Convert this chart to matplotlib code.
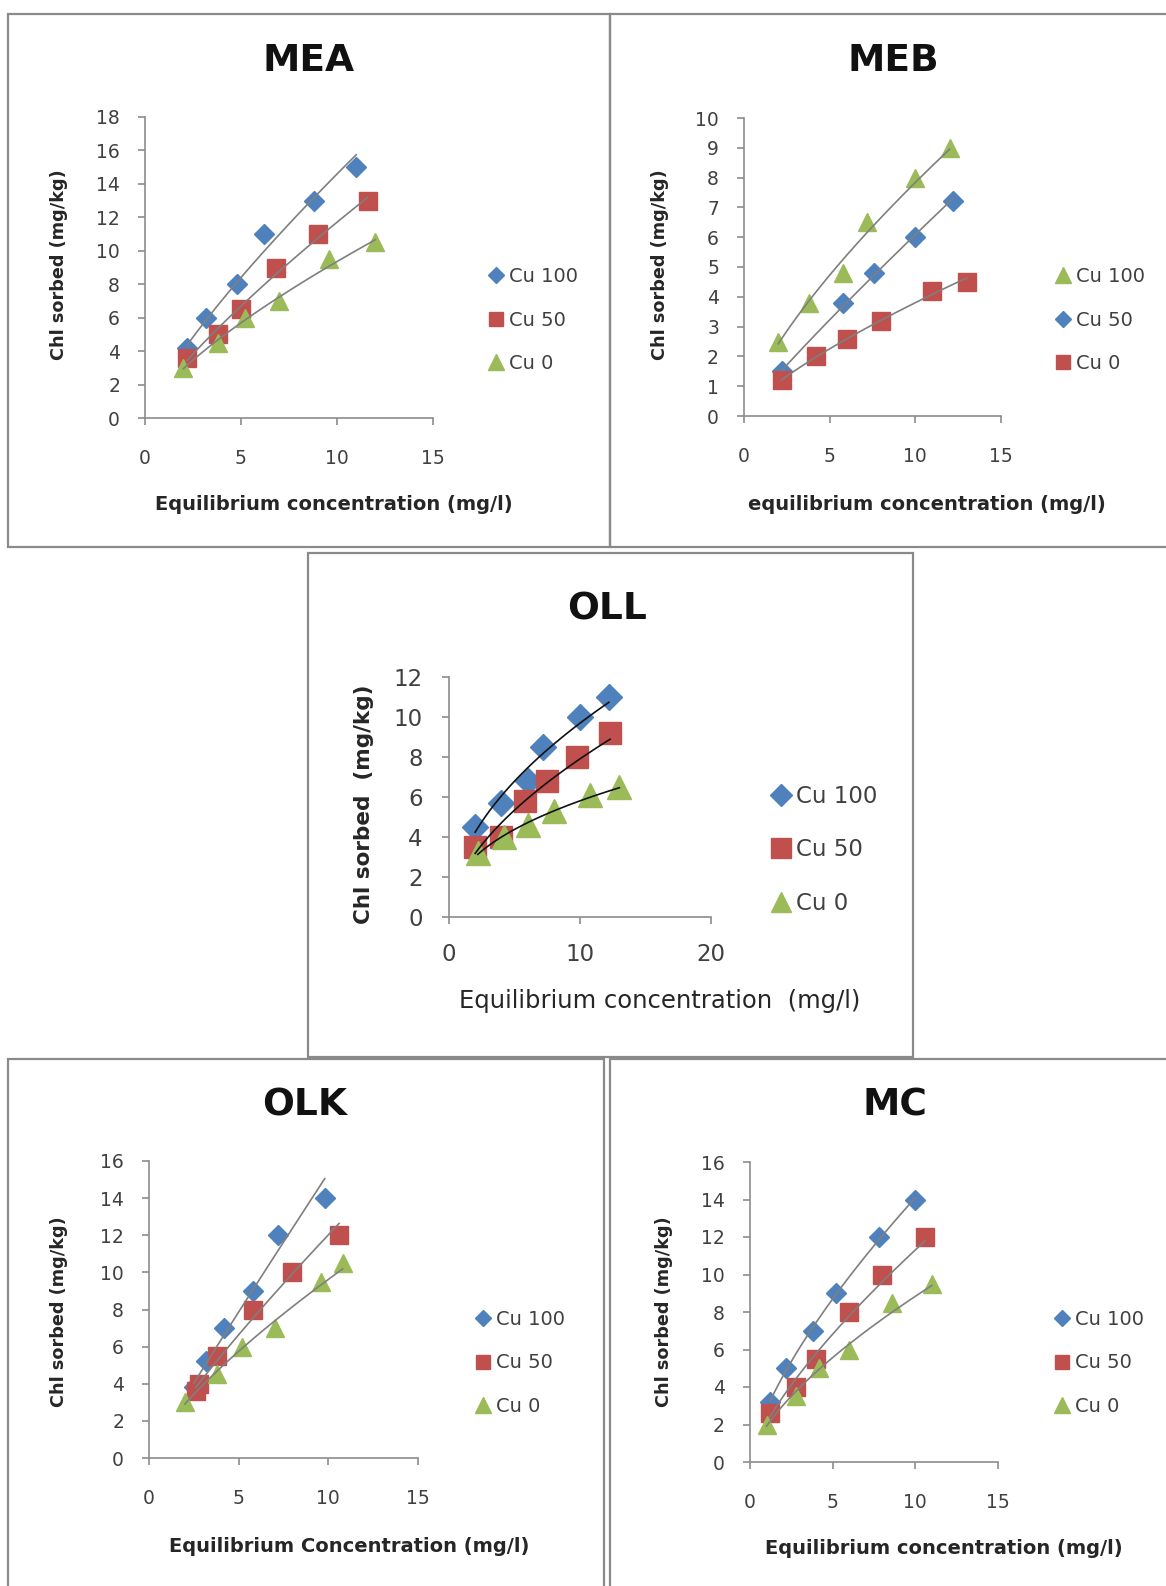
import numpy as np
import matplotlib.pyplot as plt
from matplotlib.patches import Rectangle

plt.rcParams['font.family'] = ['DejaVu Sans']

W, H = 1166, 1586
BLUE = '#4F81BD'
RED = '#C0504D'
GREEN = '#9BBB59'

# MEA
mea_cu100_x = [2.2, 3.2, 4.8, 6.2, 8.8, 11.0]
mea_cu100_y = [4.2, 6.0, 8.0, 11.0, 13.0, 15.0]
mea_cu50_x = [2.2, 3.8, 5.0, 6.8, 9.0, 11.6]
mea_cu50_y = [3.6, 5.0, 6.5, 9.0, 11.0, 13.0]
mea_cu0_x = [2.0, 3.8, 5.2, 7.0, 9.6, 12.0]
mea_cu0_y = [3.0, 4.5, 6.0, 7.0, 9.5, 10.5]

# MEB
meb_cu100_x = [2.0, 3.8, 5.8, 7.2, 10.0, 12.0]
meb_cu100_y = [2.5, 3.8, 4.8, 6.5, 8.0, 9.0]
meb_cu50_x = [2.2, 5.8, 7.6, 10.0, 12.2]
meb_cu50_y = [1.5, 3.8, 4.8, 6.0, 7.2]
meb_cu0_x = [2.2, 4.2, 6.0, 8.0, 11.0, 13.0]
meb_cu0_y = [1.2, 2.0, 2.6, 3.2, 4.2, 4.5]

# OLL
oll_cu100_x = [2.0, 4.0, 6.0, 7.2, 10.0, 12.2]
oll_cu100_y = [4.5, 5.7, 6.8, 8.5, 10.0, 11.0]
oll_cu50_x = [2.0, 4.0, 5.8, 7.5, 9.8, 12.3]
oll_cu50_y = [3.5, 4.0, 5.8, 6.8, 8.0, 9.2]
oll_cu0_x = [2.2, 4.2, 6.0, 8.0, 10.8, 13.0]
oll_cu0_y = [3.2, 4.0, 4.6, 5.3, 6.1, 6.5]

# OLK
olk_cu100_x = [2.5, 3.2, 4.2, 5.8, 7.2, 9.8]
olk_cu100_y = [3.8, 5.2, 7.0, 9.0, 12.0, 14.0]
olk_cu50_x = [2.6, 2.8, 3.8, 5.8, 8.0, 10.6]
olk_cu50_y = [3.6, 4.0, 5.5, 8.0, 10.0, 12.0]
olk_cu0_x = [2.0, 3.8, 5.2, 7.0, 9.6, 10.8]
olk_cu0_y = [3.0, 4.5, 6.0, 7.0, 9.5, 10.5]

# MC
mc_cu100_x = [1.2, 2.2, 3.8, 5.2, 7.8, 10.0]
mc_cu100_y = [3.2, 5.0, 7.0, 9.0, 12.0, 14.0]
mc_cu50_x = [1.2, 2.8, 4.0, 6.0, 8.0, 10.6]
mc_cu50_y = [2.6, 4.0, 5.5, 8.0, 10.0, 12.0]
mc_cu0_x = [1.0, 2.8, 4.2, 6.0, 8.6, 11.0]
mc_cu0_y = [2.0, 3.5, 5.0, 6.0, 8.5, 9.5]

fig = plt.figure(figsize=(W / 100, H / 100), dpi=100)


def fx(px):
    return px / W


def fy(py):
    return 1 - py / H


def frame(x0, y0, x1, y1):
    fig.patches.append(Rectangle((fx(x0), fy(y1)), fx(x1) - fx(x0), fy(y0) - fy(y1),
                                 transform=fig.transFigure, fill=False,
                                 ec='#8a8a8a', lw=1.6))


def panel(box, title, title_xy, xlim, xticks, ylim, yticks, series,
          xlabel, xlabel_xy, ylabel, ylabel_xy, legend_xy, big=False,
          fit_color='#7f7f7f'):
    x0, x1, yt, yb = box
    ax = fig.add_axes([fx(x0), fy(yb), fx(x1) - fx(x0), fy(yt) - fy(yb)])
    tick_fs = 16.5 if big else 13.5
    leg_fs = 16.5 if big else 14
    scale = 1.3 if big else 1.0
    handles = []
    for xs, ys, color, marker, ms, label in series:
        xs = np.array(xs)
        ys = np.array(ys)
        # power trend line (Excel style)
        b, a = np.polyfit(np.log(xs), np.log(ys), 1)
        xx = np.linspace(xs.min(), xs.max(), 100)
        ax.plot(xx, np.exp(a) * xx ** b, color=fit_color, lw=1.2, zorder=3)
        h, = ax.plot(xs, ys, linestyle='none', marker=marker, ms=ms * scale,
                     color=color, mec=color, zorder=2, label=label)
        handles.append(h)
    ax.set_xlim(*xlim)
    ax.set_ylim(*ylim)
    ax.set_xticks(xticks)
    ax.set_yticks(yticks)
    for s in ['top', 'right']:
        ax.spines[s].set_visible(False)
    for s in ['left', 'bottom']:
        ax.spines[s].set_color('#8c8c8c')
        ax.spines[s].set_linewidth(1.2)
    ax.tick_params(axis='both', direction='out', length=5, width=1.2,
                   color='#8c8c8c', labelsize=tick_fs, labelcolor='#404040')
    ax.tick_params(axis='x', pad=17 if not big else 14)
    ax.tick_params(axis='y', pad=13 if not big else 14)
    ax.patch.set_alpha(0)

    ax.set_xlabel(xlabel, fontsize=17.5 if big else 14,
                  fontweight='normal' if big else 'bold', color='#262626')
    ax.xaxis.set_label_coords(fx(xlabel_xy[0]), fy(xlabel_xy[1]), transform=fig.transFigure)
    ax.set_ylabel(ylabel, fontsize=15.5 if big else 12.7, fontweight='bold', color='#262626')
    ax.yaxis.set_label_coords(fx(ylabel_xy[0]), fy(ylabel_xy[1]), transform=fig.transFigure)
    ax.xaxis.label.set_va('center')
    ax.yaxis.label.set_va('center')

    fig.text(fx(title_xy[0]), fy(title_xy[1]), title, fontsize=27, fontweight='bold',
             ha='center', va='center', color='#111111')

    mx, my = legend_xy
    fs_px = leg_fs * 100 / 72
    ax.legend(handles=handles, loc='center left',
              bbox_to_anchor=(fx(mx - 0.5 * fs_px), fy(my)),
              bbox_transform=fig.transFigure, frameon=False, fontsize=leg_fs,
              handlelength=1.0, handletextpad=0.15, borderpad=0, borderaxespad=0,
              labelspacing=1.35 if big else 1.25, markerscale=0.85,
              labelcolor='#404040')
    return ax


# panel frames
frame(8, 14, 610, 547)
frame(610, 14, 1175, 547)
frame(308, 553, 913, 1057)
frame(8, 1059, 604, 1595)
frame(610, 1059, 1175, 1595)

panel((145, 433, 117, 418), 'MEA', (309, 61), (0, 15), [0, 5, 10, 15],
      (0, 18), range(0, 19, 2),
      [(mea_cu100_x, mea_cu100_y, BLUE, 'D', 10, 'Cu 100'),
       (mea_cu50_x, mea_cu50_y, RED, 's', 12.5, 'Cu 50'),
       (mea_cu0_x, mea_cu0_y, GREEN, '^', 13, 'Cu 0')],
      'Equilibrium concentration (mg/l)', (334, 504),
      'Chl sorbed (mg/kg)', (59, 265), (496, 320))

panel((744, 1001, 118, 416), 'MEB', (893, 61), (0, 15), [0, 5, 10, 15],
      (0, 10), range(0, 11, 1),
      [(meb_cu100_x, meb_cu100_y, GREEN, '^', 13, 'Cu 100'),
       (meb_cu50_x, meb_cu50_y, BLUE, 'D', 10, 'Cu 50'),
       (meb_cu0_x, meb_cu0_y, RED, 's', 12.5, 'Cu 0')],
      'equilibrium concentration (mg/l)', (927, 504),
      'Chl sorbed (mg/kg)', (660, 265), (1063, 320))

panel((449, 711, 677, 917), 'OLL', (607, 610), (0, 20), [0, 10, 20],
      (0, 12), range(0, 13, 2),
      [(oll_cu100_x, oll_cu100_y, BLUE, 'D', 10, 'Cu 100'),
       (oll_cu50_x, oll_cu50_y, RED, 's', 12.5, 'Cu 50'),
       (oll_cu0_x, oll_cu0_y, GREEN, '^', 13, 'Cu 0')],
      'Equilibrium concentration  (mg/l)', (660, 1001),
      'Chl sorbed  (mg/kg)', (364, 804), (781, 850), big=True, fit_color='#111111')

panel((149, 418, 1161, 1458), 'OLK', (305, 1105), (0, 15), [0, 5, 10, 15],
      (0, 16), range(0, 17, 2),
      [(olk_cu100_x, olk_cu100_y, BLUE, 'D', 10, 'Cu 100'),
       (olk_cu50_x, olk_cu50_y, RED, 's', 12.5, 'Cu 50'),
       (olk_cu0_x, olk_cu0_y, GREEN, '^', 13, 'Cu 0')],
      'Equilibrium Concentration (mg/l)', (349, 1547),
      'Chl sorbed (mg/kg)', (59, 1312), (483, 1363))

panel((750, 998, 1162, 1462), 'MC', (895, 1105), (0, 15), [0, 5, 10, 15],
      (0, 16), range(0, 17, 2),
      [(mc_cu100_x, mc_cu100_y, BLUE, 'D', 10, 'Cu 100'),
       (mc_cu50_x, mc_cu50_y, RED, 's', 12.5, 'Cu 50'),
       (mc_cu0_x, mc_cu0_y, GREEN, '^', 13, 'Cu 0')],
      'Equilibrium concentration (mg/l)', (944, 1549),
      'Chl sorbed (mg/kg)', (664, 1312), (1062, 1363))

fig.savefig('out.png', dpi=100)
